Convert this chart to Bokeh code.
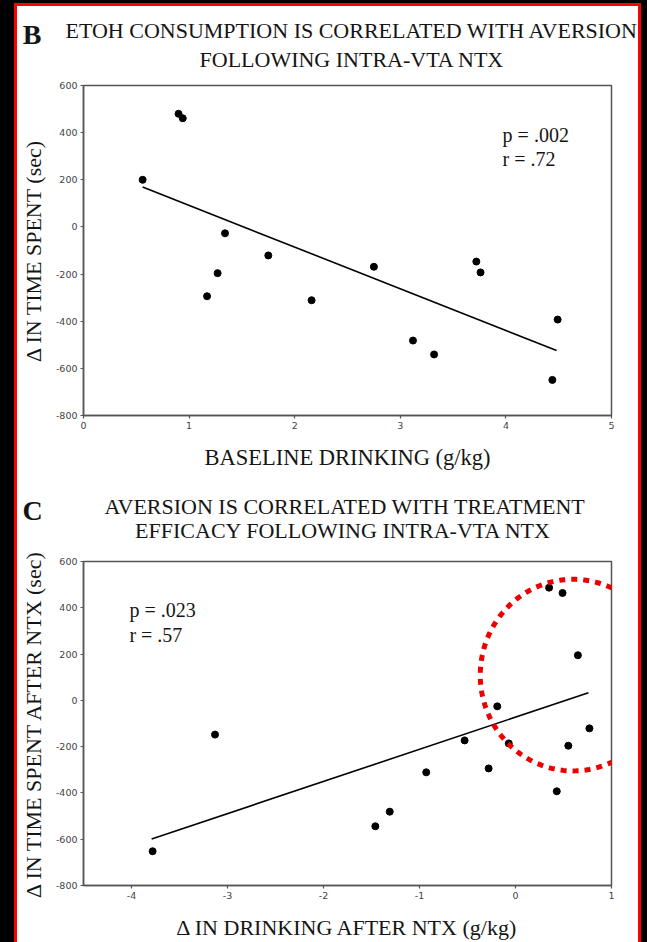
import numpy as np
from bokeh.plotting import figure
from bokeh.layouts import column
from bokeh.models import Range1d, FixedTicker, Label, PolyAnnotation
from bokeh.embed import file_html
from bokeh.resources import INLINE

# ---------------- data ----------------
# Panel B: baseline drinking vs change in time spent
baseline_drinking = [0.56, 0.90, 0.94, 1.17, 1.27, 1.34, 1.75, 2.16, 2.75, 3.12, 3.32, 3.72, 3.76, 4.44, 4.49]
time_spent_change = [200, 480, 461, -294, -196, -27, -121, -311, -169, -482, -541, -147, -193, -649, -393]
fit_b_x = [0.56, 4.48]
fit_b_y = [169, -524]
stats_b = ["p = .002", "r = .72"]

# Panel C: change in drinking after NTX vs change in time spent after NTX
drinking_change = [-3.78, -3.13, -1.46, -1.31, -0.93, -0.53, -0.28, -0.19, -0.07, 0.35, 0.43, 0.49, 0.55, 0.65, 0.77]
time_spent_after_ntx = [-652, -148, -544, -481, -311, -173, -294, -26, -186, 487, -393, 464, -196, 195, -121]
fit_c_x = [-3.79, 0.76]
fit_c_y = [-599, 33]
stats_c = ["p = .023", "r = .57"]

b_xticks = [0, 1, 2, 3, 4, 5]
c_xticks = [-4, -3, -2, -1, 0, 1]
y_ticks = [-800, -600, -400, -200, 0, 200, 400, 600]

# ---------------- geometry (page pixels) ----------------
PAD_L, PAD_T, RED = 14, 3, 3
OX = PAD_L + RED            # canvas left on the page
WF = 621                    # figure width
H1, H2 = 474, 462
OY1 = PAD_T + RED           # p1 canvas top on the page
OY2 = OY1 + H1              # p2 canvas top on the page
FR_B = dict(L=82, R=612, T=85, B=415, x0=0, x1=5, y0=-800, y1=600, ox=OX, oy=OY1)
FR_C = dict(L=82, R=611, T=561, B=889, x0=-4.5, x1=1, y0=-800, y1=600, ox=OX, oy=OY2)
BASE_FIX = -8               # renderer's baseline offset

SERIF = "Liberation Serif"
SANS = "DejaVu Sans"
AX = "#555555"
TXT = "#151515"


def to_data(fr, px, py):
    x = fr["x0"] + (px - fr["L"]) / (fr["R"] - fr["L"]) * (fr["x1"] - fr["x0"])
    y = fr["y1"] - (py - fr["T"]) / (fr["B"] - fr["T"]) * (fr["y1"] - fr["y0"])
    return x, y


def make_fig(fr, h, xticks, xlabel, ylabel, xlabel_size="22px"):
    L, R, T, B = fr["L"] - fr["ox"], fr["R"] - fr["ox"], fr["T"] - fr["oy"], fr["B"] - fr["oy"]
    p = figure(width=WF, height=h, output_backend="svg", toolbar_location=None,
               x_range=Range1d(fr["x0"], fr["x1"]), y_range=Range1d(fr["y0"], fr["y1"]),
               min_border_left=L, min_border_right=WF - R,
               min_border_top=T, min_border_bottom=h - B)
    p.border_fill_color = "white"
    p.background_fill_color = "white"
    p.outline_line_color = AX
    p.outline_line_width = 1.5
    p.xgrid.visible = False
    p.ygrid.visible = False
    p.xaxis.ticker = FixedTicker(ticks=xticks)
    p.yaxis.ticker = FixedTicker(ticks=y_ticks)
    p.xaxis.major_label_overrides = {v: str(v) for v in xticks}
    p.yaxis.major_label_overrides = {v: str(v) for v in y_ticks}
    for ax in (p.xaxis, p.yaxis):
        ax.axis_line_color = AX
        ax.axis_line_width = 1.5
        ax.major_tick_line_color = AX
        ax.major_tick_line_width = 1.2
        ax.major_tick_out = 3
        ax.major_tick_in = 0
        ax.minor_tick_line_color = None
        ax.major_label_text_font = SANS
        ax.major_label_text_font_size = "9.5px"
        ax.major_label_text_color = "#444444"
        ax.major_label_standoff = 3
        ax.axis_label_text_font = SERIF
        ax.axis_label_text_font_size = "22px"
        ax.axis_label_text_font_style = "normal"
        ax.axis_label_text_color = TXT
    p.xaxis.axis_label_text_font_size = xlabel_size
    p.xaxis.axis_label = xlabel
    p.yaxis.axis_label = ylabel
    p.xaxis.axis_label_standoff = 13
    p.yaxis.axis_label_standoff = 7
    return p


def label(p, fr, text, px, py, size="22px", align="center", bold=False, place=None):
    x, y = to_data(fr, px, py + BASE_FIX)
    lab = Label(x=x, y=y, text=text, text_align=align, text_baseline="alphabetic",
                text_font=SERIF, text_font_size=size, text_color=TXT,
                text_font_style="bold" if bold else "normal")
    if place:
        p.add_layout(lab, place)
    else:
        p.add_layout(lab)


# ---------------- panel B ----------------
p1 = make_fig(FR_B, H1, b_xticks, "BASELINE DRINKING (g/kg)", "\u0394 IN TIME SPENT (sec)",
              xlabel_size="22.5px")
p1.line(fit_b_x, fit_b_y, line_color="black", line_width=1.6)
p1.scatter(baseline_drinking, time_spent_change, size=7, color="black")
label(p1, FR_B, "ETOH CONSUMPTION IS CORRELATED WITH AVERSION", 351.5, 38, place="above")
label(p1, FR_B, "FOLLOWING INTRA-VTA NTX", 351.5, 67, place="above")
label(p1, FR_B, "B", 21, 42, size="28px", align="left", bold=True, place="right")
label(p1, FR_B, stats_b[0], 502.7, 142.7, size="20px", align="left")
label(p1, FR_B, stats_b[1], 502.7, 166, size="20px", align="left")

# ---------------- panel C ----------------
p2 = make_fig(FR_C, H2, c_xticks, "\u0394 IN DRINKING AFTER NTX (g/kg)", "\u0394 IN TIME SPENT AFTER NTX (sec)")
p2.line(fit_c_x, fit_c_y, line_color="black", line_width=1.6)
p2.scatter(drinking_change, time_spent_after_ntx, size=7, color="black")
label(p2, FR_C, "AVERSION IS CORRELATED WITH TREATMENT", 344, 513, place="above")
label(p2, FR_C, "EFFICACY FOLLOWING INTRA-VTA NTX", 342.5, 538, place="above")
label(p2, FR_C, "C", 21, 517, size="28px", align="left", bold=True, place="right")
label(p2, FR_C, stats_c[0], 128, 618.3, size="20px", align="left")
label(p2, FR_C, stats_c[1], 128, 643, size="20px", align="left")

# red dotted highlight ellipse
cx, cy = to_data(FR_C, 572.5, 676)
ex, _ = to_data(FR_C, 572.5 + 93, 676)
_, ey = to_data(FR_C, 572.5, 676 - 97)
t = np.linspace(0, 2 * np.pi, 181)
rx, ry = ex - cx, ey - cy
p2.add_layout(PolyAnnotation(xs=list(cx + rx * np.cos(t)), ys=list(cy + ry * np.sin(t)),
                             line_color="#ee0000", line_alpha=1, line_width=5, line_dash="6 6",
                             fill_alpha=0, level="overlay"))

inner = column(p1, p2, spacing=0, styles={
    "border-style": "solid", "border-color": "#ff0000",
    "border-width": f"{RED}px {RED}px 0px {RED}px", "background-color": "white"})
outer = column(inner, spacing=0, styles={
    "background-color": "black", "padding": f"{PAD_T}px 6px 0px {PAD_L}px"})
open("out.html", "w").write(file_html(outer, INLINE))
